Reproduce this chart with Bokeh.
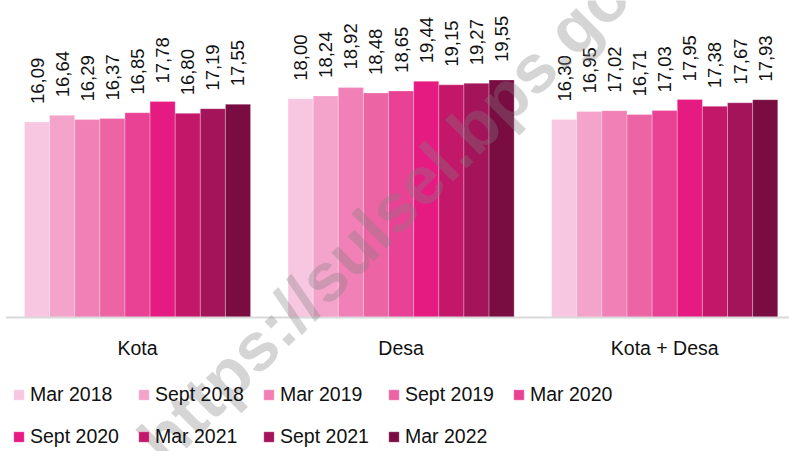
import math
from bokeh.plotting import figure
from bokeh.models import Legend, LegendItem, Span, Label, Range1d, ColumnDataSource
from bokeh.embed import file_html
from bokeh.resources import INLINE
from bokeh.core.properties import value

categories = ["Kota", "Desa", "Kota + Desa"]
periods = ["Mar 2018", "Sept 2018", "Mar 2019", "Sept 2019", "Mar 2020",
           "Sept 2020", "Mar 2021", "Sept 2021", "Mar 2022"]
kota = [16.09, 16.64, 16.29, 16.37, 16.85, 17.78, 16.80, 17.19, 17.55]
desa = [18.00, 18.24, 18.92, 18.48, 18.65, 19.44, 19.15, 19.27, 19.55]
kota_desa = [16.30, 16.95, 17.02, 16.71, 17.03, 17.95, 17.38, 17.67, 17.93]
colors = ["#f7c6e0", "#f4a3cb", "#f080b5", "#ec64a4", "#e94294",
          "#e61b82", "#c3176a", "#a3145a", "#790d42"]

FONT = "Liberation Sans"

p = figure(width=789, height=451, output_backend="svg", toolbar_location=None,
           x_range=Range1d(-0.5008, 2.4734), y_range=Range1d(-11.03, 26.09),
           x_axis_location=None, y_axis_location=None,
           min_border=0, min_border_left=5, min_border_right=0,
           min_border_top=0, min_border_bottom=0)
p.outline_line_color = None
p.xgrid.visible = False
p.ygrid.visible = False
p.background_fill_color = "white"

bw = 0.0953
series = list(zip(kota, desa, kota_desa))
renderers = []
for i, name in enumerate(periods):
    xs = [g + (i - 4) * bw for g in range(len(categories))]
    tops = list(series[i])
    src = ColumnDataSource(dict(x=xs, top=tops,
                                lab=[f"{v:.2f}".replace(".", ",") for v in tops]))
    r = p.vbar(x="x", top="top", bottom=0, width=bw, source=src,
               fill_color=colors[i], line_color="white", line_alpha=0.35, line_width=0.8)
    renderers.append(r)
    p.text(x="x", y="top", text="lab", source=src, angle=math.pi / 2,
           text_align="left", text_baseline="middle", y_offset=-18,
           text_font=value(FONT), text_font_size="18.5px", text_color="#111111")

p.add_layout(Span(location=0, dimension="width", line_color="#d9d9d9", line_width=2))

csrc = ColumnDataSource(dict(x=list(range(len(categories))), y=[0] * len(categories), t=categories))
p.text(x="x", y="y", text="t", source=csrc, y_offset=30.5, text_align="center",
       text_baseline="middle", text_font=value(FONT), text_font_size="19.5px",
       text_color="#111111")

wm = Label(x=406, y=262, x_units="screen", y_units="screen",
           text="https://sulsel.bps.go.id", angle=math.pi / 4,
           text_align="center", text_baseline="middle",
           text_font="Liberation Sans", text_font_style="bold",
           text_font_size="68px", text_color="#808080", text_alpha=0.33)
p.add_layout(wm)

rows = [periods[:5], periods[5:]]
row_y = [45, 3]
idx = 0
for row, yy in zip(rows, row_y):
    items = []
    for name in row:
        items.append(LegendItem(label=name, renderers=[renderers[idx]]))
        idx += 1
    lg = Legend(items=items, orientation="horizontal", location=(7, yy),
                glyph_width=13, glyph_height=13, label_standoff=5, label_width=107,
                label_height=13, spacing=0, padding=0, margin=0,
                border_line_color=None, background_fill_alpha=0,
                label_text_font=FONT, label_text_font_size="19.5px",
                label_text_color="#111111")
    p.add_layout(lg)

open("out.html", "w").write(file_html(p, INLINE))
